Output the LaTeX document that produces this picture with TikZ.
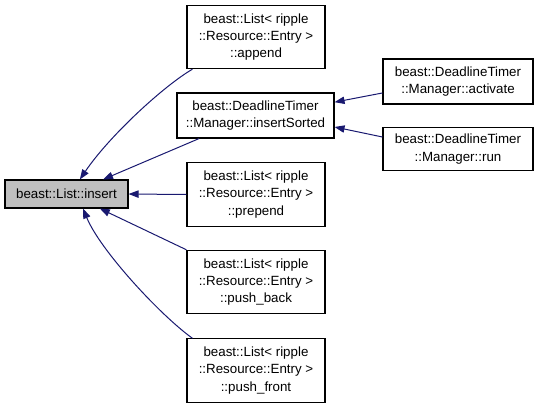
\documentclass[tikz,border=0pt]{standalone}
\usepackage{fontspec}
\setmainfont{Liberation Sans}
\usepackage{tikz}
\usetikzlibrary{arrows.meta,positioning}
\usepackage{xcolor}
\definecolor{edgeblue}{RGB}{25,25,112}

\begin{document}
\begin{tikzpicture}[
  x=0.75pt, y=-0.75pt,
  box/.style={draw, line width=0.8pt, inner sep=0pt, minimum width=103.5pt, minimum height=47.5pt, align=center, font=\fontsize{10}{13}\selectfont},
  arrow/.style={{Triangle[length=7.5pt,width=5.5pt]}-, edgeblue, line width=0.75pt}
]
  \useasboundingbox (0,0) rectangle (536,408);

  \node[box, fill=black!25, minimum width=92.25pt, minimum height=21pt] (insert) at (66.5,194) {beast::List::insert};
  \node[box] (append) at (256,37) {beast::List< ripple\\::Resource::Entry >\\::append};
  \node[box, minimum width=117.75pt, minimum height=33.75pt] (sorted) at (255.5,115.5) {beast::DeadlineTimer\\::Manager::insertSorted};
  \node[box] (prepend) at (256,194.5) {beast::List< ripple\\::Resource::Entry >\\::prepend};
  \node[box] (pushback) at (256,282) {beast::List< ripple\\::Resource::Entry >\\::push\_back};
  \node[box] (pushfront) at (256,370.5) {beast::List< ripple\\::Resource::Entry >\\::push\_front};
  \node[box, minimum width=112.5pt, minimum height=33.75pt] (activate) at (458,81.5) {beast::DeadlineTimer\\::Manager::activate};
  \node[box, minimum width=112.5pt, minimum height=32pt] (run) at (458,149) {beast::DeadlineTimer\\::Manager::run};

  \draw[arrow] ([xshift=10pt]insert.north) .. controls (110,135) and (165,85) .. ([xshift=4.5pt]append.south west);
  \draw[arrow] ([xshift=27.4pt]insert.north) -- ([xshift=17pt]sorted.south west);
  \draw[arrow] (insert.east) -- (prepend.west);
  \draw[arrow] ([xshift=25pt]insert.south) -- (pushback.north west);
  \draw[arrow] ([xshift=12.4pt]insert.south) .. controls (100,250) and (160,315) .. ([xshift=4.5pt]pushfront.north west);
  \draw[arrow] ([yshift=10pt]sorted.east) -- ([yshift=-8.6pt]activate.west);
  \draw[arrow] ([yshift=-8.6pt]sorted.east) -- ([yshift=9pt]run.west);
\end{tikzpicture}
\end{document}
